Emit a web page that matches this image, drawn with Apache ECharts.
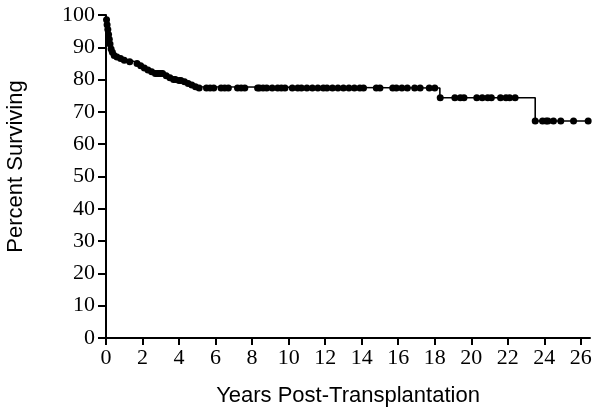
<!DOCTYPE html>
<html><head><meta charset="utf-8">
<script src="https://cdn.jsdelivr.net/npm/echarts@6/dist/echarts.min.js"></script>
<style>html,body{margin:0;padding:0;background:#fff}#c{width:600px;height:418px}</style>
</head><body><div id="c"></div>
<script>
// Kaplan-Meier event steps: [years, percent surviving after the event]
const eventTimes = [0, 0.02, 0.05, 0.08, 0.12, 0.16, 0.2, 0.25, 0.3, 0.4, 0.5, 0.7, 0.9, 1.3, 1.6, 1.85, 2.0, 2.2, 2.4, 2.6, 3.2, 3.4, 3.6, 3.9, 4.2, 4.4, 4.6, 4.8, 5.0, 18.28, 23.5, 26.5];
const survival   = [100, 98.5, 97, 95.5, 94, 92.5, 91, 89.5, 88.5, 87.5, 87, 86.5, 86, 85.5, 85.0, 84.3, 83.6, 83.0, 82.4, 81.9, 81.2, 80.6, 80.0, 79.7, 79.3, 78.8, 78.3, 77.8, 77.4, 74.4, 67.2, 67.2];
// Censored observations (years)
const censorTimes = [0.03, 0.06, 0.1, 0.14, 0.18, 0.22, 0.28, 0.35, 0.45, 0.6, 0.8, 1.0, 1.3, 1.7, 1.9, 2.1, 2.3, 2.5, 2.7, 2.8, 2.9, 3.0, 3.1, 3.3, 3.5, 3.7, 3.8, 4.0, 4.1, 4.3, 4.5, 4.7, 4.9,
  5.1, 5.5, 5.7, 5.9, 6.3, 6.5, 6.7, 7.2, 7.4, 7.6, 8.3, 8.4, 8.6, 8.8, 9.1, 9.4, 9.6, 9.8, 10.2, 10.5, 10.7, 11.0, 11.3, 11.6, 11.9, 12.1, 12.4, 12.7, 13.0, 13.3, 13.6, 13.9, 14.1, 14.8, 15.0, 15.7, 15.9, 16.2, 16.5, 16.9, 17.2, 17.7, 18.0,
  18.3, 19.1, 19.4, 19.6, 20.3, 20.6, 20.9, 21.1, 21.6, 21.9, 22.1, 22.4,
  23.5, 23.9, 24.1, 24.2, 24.5, 24.9, 25.6, 26.4];
const xTicks = [0, 2, 4, 6, 8, 10, 12, 14, 16, 18, 20, 22, 24, 26];
const yTicks = [0, 10, 20, 30, 40, 50, 60, 70, 80, 90, 100];

function survAt(t) {
  let s = survival[0];
  for (let i = 0; i < eventTimes.length; i++) { if (eventTimes[i] <= t) s = survival[i]; }
  return s;
}
const lineData = eventTimes.map((t, i) => [t, survival[i]]);
const censorData = censorTimes.map(t => [t, survAt(t)]);

const chart = echarts.init(document.getElementById('c'));
const axisFont = {fontFamily: 'Liberation Serif', fontSize: 22, color: '#000'};
const titleFont = {fontFamily: 'Liberation Sans', fontSize: 22, color: '#000'};
chart.setOption({
  animation: false,
  grid: {left: 106, right: 10, top: 15, bottom: 80, outerBoundsMode: 'none', containLabel: false},
  xAxis: {
    type: 'value', min: 0, max: 26.5,
    name: 'Years Post-Transplantation', nameLocation: 'middle', nameGap: 47,
    nameTextStyle: titleFont,
    axisLine: {show: true, lineStyle: {color: '#000', width: 2}},
    axisTick: {show: true, length: 7, lineStyle: {color: '#000', width: 2}, customValues: xTicks},
    axisLabel: Object.assign({margin: 9, customValues: xTicks}, axisFont),
    splitLine: {show: false}
  },
  yAxis: {
    type: 'value', min: 0, max: 100, interval: 10,
    name: 'Percent Surviving', nameLocation: 'middle', nameGap: 79,
    nameTextStyle: Object.assign({padding: [0, 0, 0, 20]}, titleFont),
    axisLine: {show: true, lineStyle: {color: '#000', width: 2}},
    axisTick: {show: true, length: 8, lineStyle: {color: '#000', width: 2}, customValues: yTicks},
    axisLabel: Object.assign({margin: 11, customValues: yTicks}, axisFont),
    splitLine: {show: false}
  },
  series: [
    {type: 'line', step: 'end', data: lineData, showSymbol: false, symbol: 'none',
     lineStyle: {color: '#000', width: 1.6}},
    {type: 'scatter', data: censorData, symbol: 'circle', symbolSize: 7,
     itemStyle: {color: '#000', opacity: 1}}
  ]
});
</script></body></html>
